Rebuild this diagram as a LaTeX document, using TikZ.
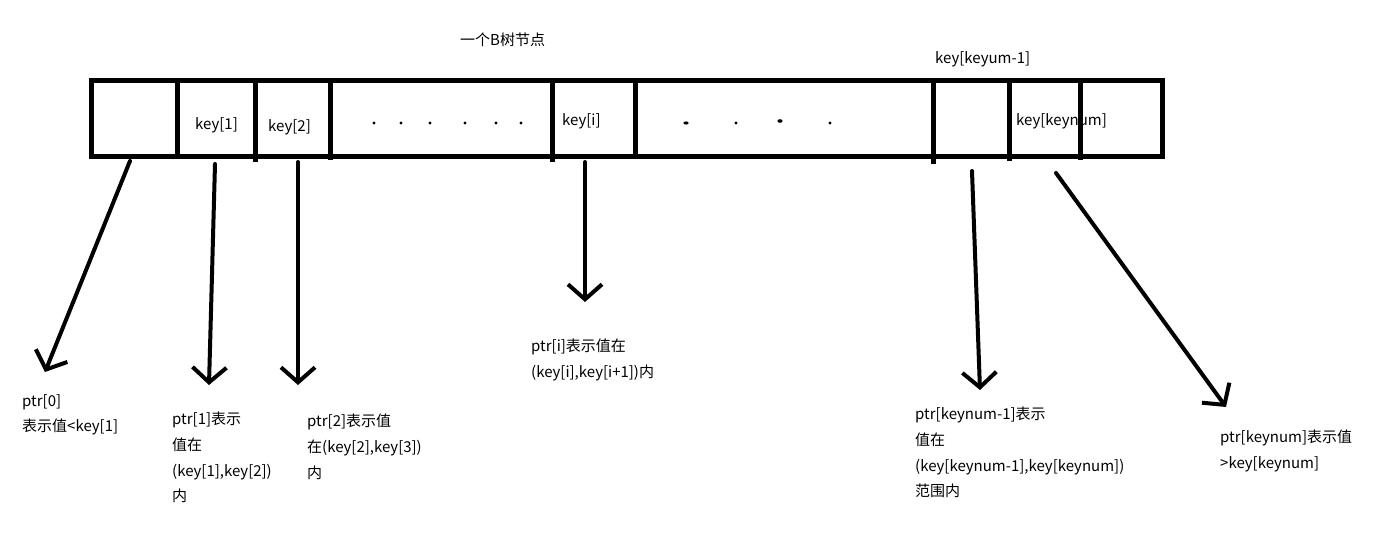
\documentclass[tikz,border=0pt]{standalone}
\usepackage{fontspec}
\setmainfont{Noto Sans CJK SC}
\usetikzlibrary{arrows.meta}

\begin{document}
\begin{tikzpicture}[x=1pt,y=-1pt,
        every node/.style={font=\fontsize{15}{25.7}\selectfont, inner sep=0pt},
        ptr/.style={-{Straight Barb[length=15pt,width=34pt]}, line width=4pt, line cap=round},
        note/.style={anchor=north west, align=left}]
        \useasboundingbox (0,0) rectangle (1382,540);

        % Draw node box
        \draw[line width=5pt] (91,81) rectangle (1162,157);
        \foreach \x/\y in {177/157,255/162,330/160,552/162,635/159,933/164,1009/161,1080/160}
            \draw[line width=5pt] (\x,81) -- (\x,\y);

        % Keys
        \node[anchor=base west] (title) at (460,46) {一个B树节点};
        \node[anchor=base west] (kk1) at (935,64) {key[keyum-1]};
        \node[anchor=base west] (k1) at (195,130) {key[1]};
        \node[anchor=base west] (k2) at (268,132) {key[2]};
        \node[anchor=base west] (ki) at (562,126) {key[i]};
        \node[anchor=base west] (kk) at (1016,126) {key[keynum]};

        % Dots
        \foreach \x in {374,401,430,465,496,521,736,830}
            \fill (\x,123) circle (1.6);
        \fill (686,123) ellipse (2.6 and 1.6);
        \fill (780,121) ellipse (2.6 and 1.8);
        \draw[line width=1.2pt] (553,114) -- (553,117);

        % Labels
        \node[note] (p0) at (22,394) {ptr[0]\\表示值<key[1]};
        \node[note] (p1) at (172,412) {ptr[1]表示\\值在\\(key[1],key[2])\\内};
        \node[note] (p2) at (307,414) {ptr[2]表示值\\在(key[2],key[3])\\内};
        \node[note] (pi) at (531,339) {ptr[i]表示值在\\(key[i],key[i+1])内};
        \node[note] (pk1) at (915,407) {ptr[keynum-1]表示\\值在\\(key[keynum-1],key[keynum])\\范围内};
        \node[note] (pk) at (1220,430) {ptr[keynum]表示值\\>key[keynum]};

        % Pointers
        \coordinate (s0) at (130,161);  \coordinate (e0) at (45,372);
        \coordinate (s1) at (215,164);  \coordinate (e1) at (209,385);
        \coordinate (s2) at (298,162);  \coordinate (e2) at (298,385);
        \coordinate (si) at (585,162);  \coordinate (ei) at (585,302);
        \coordinate (sk1) at (972,171); \coordinate (ek1) at (980,390);
        \coordinate (sk) at (1056,173); \coordinate (ek) at (1226,407);
        \draw[ptr] (s0) -- (e0);
        \draw[ptr] (s1) -- (e1);
        \draw[ptr] (s2) -- (e2);
        \draw[ptr] (si) -- (ei);
        \draw[ptr] (sk1) -- (ek1);
        \draw[ptr] (sk) -- (ek);
\end{tikzpicture}
\end{document}
